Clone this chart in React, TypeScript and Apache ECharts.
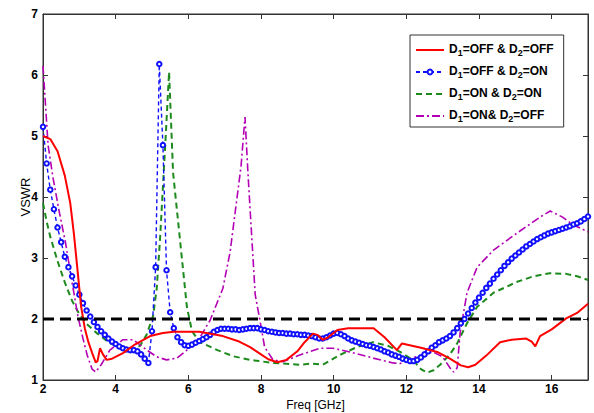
import React, { useEffect, useRef } from "react";
import * as echarts from "echarts";

const xTicks = { min: 2, max: 17, interval: 2 };
const yTicks = { min: 1, max: 7, interval: 1 };

const seriesNames = [
  "D1=OFF & D2=OFF",
  "D1=OFF & D2=ON",
  "D1=ON & D2=ON",
  "D1=ON& D2=OFF",
];

const redData: number[][] = [
  [2.0, 5.0], [2.2, 4.95], [2.4, 4.75], [2.6, 4.35], [2.75, 3.9], [2.85, 3.4], [2.95, 2.8],
  [3.05, 2.2], [3.15, 1.85], [3.25, 1.62], [3.35, 1.45], [3.45, 1.29], [3.5, 1.31], [3.57, 1.52],
  [3.65, 1.42], [3.75, 1.33], [3.9, 1.35], [4.2, 1.44], [4.5, 1.57], [4.95, 1.72], [5.3, 1.77],
  [5.6, 1.79], [6.3, 1.79], [6.95, 1.72], [7.4, 1.63], [7.7, 1.54], [8.0, 1.42], [8.2, 1.34],
  [8.45, 1.29], [8.7, 1.33], [9.0, 1.47], [9.2, 1.62], [9.43, 1.76], [9.55, 1.74], [9.7, 1.66],
  [9.85, 1.7], [10.1, 1.82], [10.4, 1.85], [11.1, 1.85], [11.4, 1.7], [11.74, 1.49], [11.88, 1.6],
  [12.4, 1.53], [12.85, 1.46], [13.2, 1.35], [13.5, 1.24], [13.7, 1.21], [13.9, 1.25], [14.2, 1.4],
  [14.58, 1.62], [14.9, 1.66], [15.3, 1.68], [15.45, 1.63], [15.55, 1.55], [15.68, 1.72],
  [16.0, 1.83], [16.4, 2.01], [16.7, 2.1], [17.0, 2.25],
];

// blue: samples every 0.1 GHz from 2.0 to 17.0
const blueStartFreq = 2.0;
const blueStepFreq = 0.1;
const blueValues: number[] = [
  5.15, 4.55, 4.12, 3.8, 3.5, 3.26, 3.02, 2.85, 2.7, 2.55,
  2.4, 2.26, 2.14, 2.04, 1.95, 1.87, 1.8, 1.74, 1.68, 1.63,
  1.59, 1.55, 1.52, 1.5, 1.49, 1.49, 1.47, 1.42, 1.35, 1.28,
  1.8, 2.85, 6.18, 4.85, 2.8, 2.11, 1.85, 1.7, 1.62, 1.57,
  1.56, 1.58, 1.61, 1.64, 1.67, 1.7, 1.74, 1.79, 1.82, 1.84,
  1.84, 1.84, 1.83, 1.83, 1.82, 1.83, 1.84, 1.85, 1.85, 1.85,
  1.83, 1.82, 1.8, 1.79, 1.78, 1.77, 1.77, 1.76, 1.76, 1.75,
  1.75, 1.74, 1.74, 1.73, 1.72, 1.7, 1.68, 1.68, 1.7, 1.73,
  1.76, 1.77, 1.75, 1.72, 1.68, 1.65, 1.63, 1.61, 1.59, 1.57,
  1.56, 1.54, 1.52, 1.5, 1.47, 1.45, 1.42, 1.4, 1.38, 1.35,
  1.33, 1.31, 1.31, 1.33, 1.37, 1.42, 1.47, 1.53, 1.57, 1.62,
  1.65, 1.68, 1.72, 1.78, 1.85, 1.93, 2.0, 2.09, 2.18, 2.27,
  2.35, 2.43, 2.51, 2.58, 2.66, 2.73, 2.8, 2.87, 2.93, 2.99,
  3.04, 3.09, 3.14, 3.19, 3.23, 3.27, 3.31, 3.34, 3.37, 3.4,
  3.42, 3.44, 3.46, 3.48, 3.5, 3.52, 3.55, 3.57, 3.6, 3.64,
  3.68,
];

const greenData: number[][] = [
  [2.0, 3.9], [2.1, 3.6], [2.2, 3.35], [2.4, 2.95], [2.6, 2.6], [2.8, 2.3], [3.0, 2.08],
  [3.2, 1.92], [3.5, 1.76], [3.8, 1.62], [4.0, 1.56], [4.3, 1.5], [4.5, 1.51], [4.67, 1.56],
  [4.85, 1.74], [5.03, 2.05], [5.13, 2.5], [5.22, 3.3], [5.36, 4.8], [5.47, 6.05], [5.58, 4.4],
  [5.77, 3.3], [5.96, 2.2], [6.1, 1.8], [6.32, 1.62], [6.8, 1.49], [7.23, 1.39], [7.7, 1.33],
  [8.33, 1.28], [9.07, 1.25], [9.4, 1.27], [9.7, 1.25], [10.17, 1.41], [10.64, 1.54],
  [11.08, 1.62], [11.5, 1.56], [11.83, 1.46], [12.18, 1.33], [12.4, 1.18], [12.57, 1.12],
  [12.75, 1.16], [12.93, 1.25], [13.2, 1.42], [13.4, 1.6], [13.67, 1.93], [13.95, 2.2],
  [14.4, 2.43], [15.05, 2.61], [15.5, 2.7], [15.95, 2.75], [16.4, 2.74], [16.7, 2.7], [17.0, 2.64],
];

const pinkData: number[][] = [
  [2.0, 6.15], [2.07, 5.5], [2.14, 4.85], [2.28, 4.3], [2.45, 3.75], [2.62, 3.25], [2.8, 2.6],
  [2.96, 2.05], [3.1, 1.68], [3.22, 1.4], [3.35, 1.18], [3.45, 1.13], [3.6, 1.25], [3.84, 1.49],
  [4.2, 1.66], [4.48, 1.66], [4.86, 1.49], [5.13, 1.38], [5.4, 1.33], [5.69, 1.36], [5.96, 1.49],
  [6.32, 1.7], [6.6, 1.98], [6.95, 2.5], [7.15, 3.1], [7.3, 3.8], [7.45, 4.5], [7.56, 5.31],
  [7.64, 4.4], [7.75, 3.3], [7.84, 2.4], [7.97, 1.98], [8.1, 1.54], [8.33, 1.33], [8.6, 1.3],
  [9.07, 1.41], [9.62, 1.52], [9.98, 1.52], [10.45, 1.46], [11.08, 1.36], [11.63, 1.28],
  [11.83, 1.27], [12.1, 1.35], [12.38, 1.4], [12.73, 1.46], [13.0, 1.38], [13.2, 1.2],
  [13.3, 1.13], [13.4, 1.2], [13.48, 1.77], [13.67, 2.43], [13.95, 2.85], [14.4, 3.13],
  [15.05, 3.41], [15.68, 3.67], [15.96, 3.77], [16.3, 3.67], [16.6, 3.54], [17.0, 3.43],
];

const thresholdValue = 2;

function toRich(name: string): string {
  return name
    .split(/(D\d)/)
    .filter((p) => p.length > 0)
    .map((p) => (/^D\d$/.test(p) ? `{m|D}{s|${p[1]}}` : `{m|${p}}`))
    .join("");
}

export default function App() {
  const ref = useRef<HTMLDivElement>(null);
  useEffect(() => {
    if (!ref.current) return;
    const chart = echarts.init(ref.current, null, { renderer: "svg" });
    const blueData = blueValues.map((v, i) => [
      Math.round((blueStartFreq + i * blueStepFreq) * 10) / 10,
      v,
    ]);
    const font = "Liberation Sans, Arial, sans-serif";
    const axisCommon = {
      axisLine: { show: true, lineStyle: { color: "#333", width: 1 } },
      axisTick: { show: true, inside: true, length: 5, lineStyle: { color: "#333" } },
      splitLine: { show: false },
    };
    chart.setOption({
      animation: false,
      backgroundColor: "#fff",
      grid: {
        left: 43,
        right: 6,
        top: 14,
        bottom: 33,
        show: true,
        borderColor: "#333",
        borderWidth: 1,
        outerBoundsMode: "none",
        containLabel: false,
      },
      legend: {
        orient: "vertical",
        left: 410,
        top: 35,
        data: seriesNames.map((n, i) =>
          i === 1 ? { name: n } : { name: n, itemStyle: { opacity: 0 } }
        ),
        backgroundColor: "#fff",
        borderColor: "#333",
        borderWidth: 1,
        padding: [5, 10, 4, 5],
        itemGap: 5,
        itemWidth: 28,
        itemHeight: 6,
        formatter: (name: string) => toRich(name),
        textStyle: {
          rich: {
            m: {
              fontFamily: font,
              fontSize: 12,
              fontWeight: "bold",
              color: "#000",
              lineHeight: 14,
              verticalAlign: "top",
            },
            s: {
              fontFamily: font,
              fontSize: 9,
              fontWeight: "bold",
              color: "#000",
              lineHeight: 9,
              padding: [8, 0, 0, 0],
              verticalAlign: "bottom",
            },
          },
        },
      },
      xAxis: [
        {
          type: "value",
          min: xTicks.min,
          max: xTicks.max,
          interval: xTicks.interval,
          name: "Freq [GHz]",
          nameLocation: "middle",
          nameGap: 19,
          nameMoveOverlap: false,
          nameTextStyle: { fontFamily: font, fontSize: 12, color: "#000" },
          axisLabel: {
            fontFamily: font,
            fontSize: 12,
            fontWeight: "bold",
            color: "#000",
            margin: 3,
            showMaxLabel: false,
          },
          ...axisCommon,
        },
        {
          type: "value",
          position: "top",
          min: xTicks.min,
          max: xTicks.max,
          interval: xTicks.interval,
          axisLabel: { show: false },
          ...axisCommon,
        },
      ],
      yAxis: [
        {
          type: "value",
          min: yTicks.min,
          max: yTicks.max,
          interval: yTicks.interval,
          name: "VSWR",
          nameLocation: "middle",
          nameGap: 11,
          nameMoveOverlap: false,
          nameTextStyle: { fontFamily: font, fontSize: 13, color: "#000" },
          axisLabel: {
            fontFamily: font,
            fontSize: 12,
            fontWeight: "bold",
            color: "#000",
            margin: 5,
          },
          ...axisCommon,
        },
        {
          type: "value",
          position: "right",
          min: yTicks.min,
          max: yTicks.max,
          interval: yTicks.interval,
          axisLabel: { show: false },
          ...axisCommon,
        },
      ],
      series: [
        {
          name: seriesNames[0],
          type: "line",
          data: redData,
          symbol: "none",
          lineStyle: { color: "#ff0000", width: 2, type: "solid" },
          itemStyle: { color: "#ff0000" },
          z: 5,
        },
        {
          name: seriesNames[1],
          type: "line",
          data: blueData,
          symbol: "emptyCircle",
          symbolSize: 4.5,
          lineStyle: { color: "#1010ff", width: 1.4, type: [4, 3] },
          itemStyle: { color: "#1010ff", borderColor: "#1010ff", borderWidth: 1.1 },
          z: 4,
        },
        {
          name: seriesNames[2],
          type: "line",
          data: greenData,
          symbol: "none",
          lineStyle: { color: "#1e8a1e", width: 2, type: [6, 4] },
          itemStyle: { color: "#1e8a1e" },
          z: 3,
        },
        {
          name: seriesNames[3],
          type: "line",
          data: pinkData,
          symbol: "none",
          lineStyle: { color: "#b400b4", width: 1.6, type: [8, 3, 2, 3] },
          itemStyle: { color: "#b400b4" },
          z: 3,
        },
        {
          name: "threshold",
          type: "line",
          data: [
            [xTicks.min, thresholdValue],
            [xTicks.max, thresholdValue],
          ],
          symbol: "none",
          lineStyle: { color: "#000", width: 3, type: [11, 6] },
          z: 6,
          silent: true,
        },
      ],
    });
    return () => chart.dispose();
  }, []);
  return (
    <div
      ref={ref}
      style={{ position: "fixed", left: 0, top: 0, width: 594, height: 413, background: "#fff" }}
    />
  );
}
